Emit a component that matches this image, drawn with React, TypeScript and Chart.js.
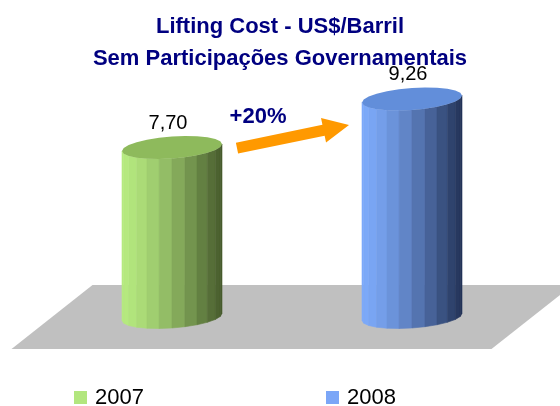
import React, { useEffect, useRef } from 'react';
import { Chart, registerables } from 'chart.js';

Chart.register(...registerables);

// ---- data ----
const categories = ['2007', '2008'];
const seriesLabels = ['2007', '2008'];
const values2007 = [7.7, null];
const values2008 = [null, 9.26];
const titleLines = ['Lifting Cost - US$/Barril', 'Sem Participações Governamentais'];
const axisMin = 2.25;
const axisMax = 10;

const FONT = 'Arial, "Liberation Sans", sans-serif';

type RGB = [number, number, number];
const palettes: { light: RGB; dark: RGB; top: RGB; legend: string }[] = [
  { light: [182, 234, 128], dark: [70, 90, 44], top: [142, 186, 92], legend: '#B2E67E' },
  { light: [125, 170, 250], dark: [34, 50, 86], top: [98, 142, 218], legend: '#7BA6F7' },
];

const mix = (a: RGB, b: RGB, w: number) =>
  `rgb(${Math.round(a[0] + (b[0] - a[0]) * w)},${Math.round(a[1] + (b[1] - a[1]) * w)},${Math.round(
    a[2] + (b[2] - a[2]) * w
  )})`;

const fmt = (v: number) => v.toFixed(2).replace('.', ',');

function drawCylinder(
  ctx: CanvasRenderingContext2D,
  cx: number,
  topY: number,
  baseY: number,
  rx: number,
  ry: number,
  tilt: number,
  pal: { light: RGB; dark: RGB; top: RGB }
) {
  const P = (t: number, y0: number): [number, number] => [
    cx + rx * Math.cos(t),
    y0 + ry * Math.sin(t) - tilt * Math.cos(t),
  ];
  const M = 12;
  for (let k = 0; k < M; k++) {
    const ta = Math.PI - (k * Math.PI) / M;
    const tb = Math.PI - ((k + 1) * Math.PI) / M;
    const tm = (ta + tb) / 2;
    const w = Math.pow((Math.cos(tm) + 1) / 2, 1.4);
    const a1 = P(ta, topY), b1 = P(tb, topY), b2 = P(tb, baseY), a2 = P(ta, baseY);
    ctx.beginPath();
    ctx.moveTo(a1[0], a1[1]);
    ctx.lineTo(b1[0], b1[1]);
    ctx.lineTo(b2[0], b2[1]);
    ctx.lineTo(a2[0], a2[1]);
    ctx.closePath();
    ctx.fillStyle = mix(pal.light, pal.dark, w);
    ctx.fill();
    ctx.strokeStyle = mix(pal.light, pal.dark, w);
    ctx.lineWidth = 0.6;
    ctx.stroke();
  }
  ctx.beginPath();
  for (let k = 0; k < 2 * M; k++) {
    const t = (k * Math.PI) / M;
    const p = P(t, topY);
    if (k === 0) ctx.moveTo(p[0], p[1]);
    else ctx.lineTo(p[0], p[1]);
  }
  ctx.closePath();
  ctx.fillStyle = mix(pal.top, pal.top, 0);
  ctx.fill();
}

const cylinderPlugin = {
  id: 'cylinders',
  beforeDatasetsDraw(chart: any) {
    const { ctx, chartArea: ca } = chart;
    const dx = 40.5;
    const dy = 32;
    ctx.save();
    ctx.fillStyle = '#C0C0C0';
    ctx.beginPath();
    ctx.moveTo(ca.left + dx, ca.bottom - dy);
    ctx.lineTo(ca.right + dx, ca.bottom - dy);
    ctx.lineTo(ca.right - dx, ca.bottom + dy);
    ctx.lineTo(ca.left - dx, ca.bottom + dy);
    ctx.closePath();
    ctx.fill();
    ctx.restore();
  },
  afterDatasetsDraw(chart: any) {
    const { ctx } = chart;
    const tops: { x: number; y: number; rx: number; v: number }[] = [];
    ctx.save();
    chart.data.datasets.forEach((ds: any, di: number) => {
      const meta = chart.getDatasetMeta(di);
      meta.data.forEach((el: any, i: number) => {
        const v = ds.data[i];
        if (v == null) return;
        const { x, y, base, width } = el.getProps(['x', 'y', 'base', 'width'], true);
        const rx = width / 2;
        drawCylinder(ctx, x, y, base, rx, 11, 3.5, palettes[di]);
        tops.push({ x, y, rx, v });
        ctx.fillStyle = '#000000';
        ctx.font = `20px ${FONT}`;
        ctx.textAlign = 'center';
        ctx.textBaseline = 'alphabetic';
        ctx.fillText(fmt(v), x - 4, y - 19);
      });
    });
    if (tops.length === 2) {
      const [a, b] = tops;
      const sx = a.x + a.rx + 15;
      const sy = a.y + 0.5;
      const tx = b.x - b.rx - 13;
      const ty = b.y + 26;
      const len = Math.hypot(tx - sx, ty - sy);
      const ux = (tx - sx) / len;
      const uy = (ty - sy) / len;
      const nx = -uy;
      const ny = ux;
      const hw = 5.5;
      const hl = 26;
      const hh = 12.5;
      const bx = tx - ux * hl;
      const by = ty - uy * hl;
      ctx.fillStyle = '#FF9900';
      ctx.beginPath();
      ctx.moveTo(sx + nx * hw, sy + ny * hw);
      ctx.lineTo(bx + nx * hw, by + ny * hw);
      ctx.lineTo(bx + nx * hh, by + ny * hh);
      ctx.lineTo(tx, ty);
      ctx.lineTo(bx - nx * hh, by - ny * hh);
      ctx.lineTo(bx - nx * hw, by - ny * hw);
      ctx.lineTo(sx - nx * hw, sy - ny * hw);
      ctx.closePath();
      ctx.fill();
      const pct = Math.round((b.v / a.v - 1) * 100);
      ctx.fillStyle = '#000080';
      ctx.font = `bold 22px ${FONT}`;
      ctx.textAlign = 'center';
      ctx.fillText(`+${pct}%`, (sx + tx) / 2 - 35, (sy + ty) / 2 - 14);
    }
    ctx.restore();
  },
  afterDraw(chart: any) {
    const { ctx } = chart;
    ctx.save();
    // title, centred on the whole canvas
    ctx.fillStyle = '#000080';
    ctx.font = `bold 22px ${FONT}`;
    ctx.textAlign = 'center';
    ctx.textBaseline = 'alphabetic';
    titleLines.forEach((line, i) => ctx.fillText(line, chart.width / 2, 33 + i * 32));
    // legend
    ctx.font = `22px ${FONT}`;
    ctx.textAlign = 'left';
    ctx.fillStyle = '#000000';
    chart.data.datasets.forEach((ds: any, di: number) => {
      const x0 = 74 + di * 252;
      ctx.fillStyle = palettes[di].legend;
      ctx.fillRect(x0, 391, 13, 13);
      ctx.fillStyle = '#000000';
      ctx.fillText(ds.label, x0 + 21, 404);
    });
    ctx.restore();
  },
};

export default function App() {
  const ref = useRef<HTMLCanvasElement | null>(null);
  useEffect(() => {
    if (!ref.current) return;
    const chart = new Chart(ref.current, {
      type: 'bar',
      data: {
        labels: categories,
        datasets: [
          { label: seriesLabels[0], data: values2007, backgroundColor: 'rgba(0,0,0,0)', borderWidth: 0 },
          { label: seriesLabels[1], data: values2008, backgroundColor: 'rgba(0,0,0,0)', borderWidth: 0 },
        ],
      },
      options: {
        responsive: false,
        animation: false,
        devicePixelRatio: 1,
        layout: { padding: { left: 52, right: 28, top: 76, bottom: 89 } },
        datasets: {
          bar: { grouped: false, categoryPercentage: 1, barPercentage: 100 / 240, base: axisMin },
        },
        scales: {
          x: { display: false },
          y: { display: false, min: axisMin, max: axisMax },
        },
        plugins: {
          legend: { display: false },
          tooltip: { enabled: false },
          title: { display: false },
        },
      } as any,
      plugins: [cylinderPlugin],
    });
    return () => chart.destroy();
  }, []);
  return (
    <div style={{ position: 'absolute', left: 0, top: 0, width: 560, height: 406 }}>
      <canvas ref={ref} width={560} height={406} style={{ display: 'block' }} />
    </div>
  );
}
